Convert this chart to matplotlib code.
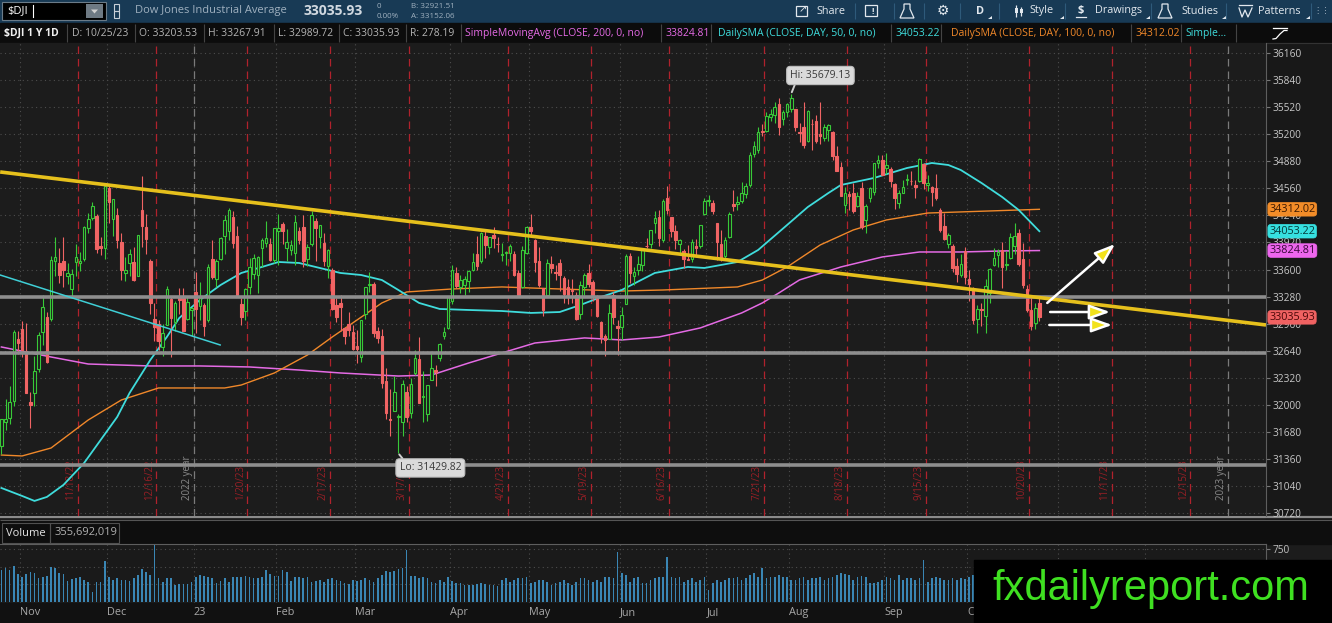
import numpy as np
import matplotlib
matplotlib.use("Agg")
import matplotlib.pyplot as plt
import matplotlib.transforms as mtransforms
from matplotlib.patches import Rectangle, Polygon

plt.rcParams['font.family'] = ['Open Sans', 'DejaVu Sans']

W, H = 1332, 623

# $DJI daily sessions 10/25/22 .. 10/25/23 (one value per session)
opens = [
    31512, 31800, 31850, 32050, 32780,
    32900, 32640, 32040, 32140, 32430, 32860, 33040, 33020, 33700, 33680, 33700, 33520, 33370, 33690, 33680, 33730, 34090, 34210, 34230, 33880, 33850,
    34560, 34200, 34250, 33930, 33560, 33680, 33690, 33520, 34300, 34100, 33700, 33020, 32960, 32680, 32940, 33250, 32980, 33280, 33260, 33020, 33120,
    33330, 33170, 33180, 33000, 33720, 33490, 33730, 34000, 34050, 34220, 34000, 33190, 33110, 33390, 33550, 33540, 33850, 33910, 33900, 33710,
    34060, 34140, 33850, 33830, 33800, 34050, 34100, 33720, 33900, 34170, 33980, 33910, 33640, 33600, 33180, 33200, 32910, 32960, 32860,
    32700, 32570, 33080, 33420, 33430, 32870, 32810, 32280, 31840, 31930, 31860, 31800, 32150, 31910, 32380, 32550, 32100, 31900, 32300, 32420, 32560, 32820, 32910,
    33230, 33560, 33400, 33420, 33460, 33600, 33780, 33700, 34000, 33870, 34010, 33900, 33770, 33800, 33800, 33780, 33560, 33400, 33800,
    34100, 33950, 33700, 33380, 33300, 33670, 33570, 33680, 33500, 33400, 33360, 33300, 33080, 33390, 33560, 33450, 33290, 32980, 32820, 32780, 33300, 32930,
    32920, 33190, 33760, 33530, 33590, 33660, 33880, 33900, 34150, 34220, 33950, 34450, 34220, 34050, 33900, 33820, 33720, 33730, 33880, 33880, 34260,
    34410, 34390, 34150, 33900, 33760, 33990, 34380, 34380, 34410, 34490, 34600, 34960, 35010, 35230, 35240, 35400, 35420, 35560, 35380, 35460,
    35500, 35500, 35220, 35280, 35120, 35320, 35350, 35200, 35150, 35250, 35220, 34940, 34810, 34360, 34490, 34510, 34350, 34560, 34180, 34450, 34520, 34860, 34900,
    34800, 34790, 34610, 34390, 34510, 34660, 34650, 34600, 34650, 34850, 34600, 34580, 34560, 34300, 34120, 33900, 33880, 33640, 33540, 33820,
    33490, 33380, 33020, 33130, 33050, 33320, 33650, 33770, 33830, 33650, 33740, 33880, 34030, 33720, 33370, 33120, 32970, 33203.53,
]
highs = [
    31840, 32070, 32220, 32890, 32880,
    32990, 32970, 32150, 32580, 32860, 33300, 33100, 33760, 33990, 33860, 33990, 33680, 33610, 33900, 33810, 34120, 34270, 34400, 34260, 33990, 34590,
    34600, 34430, 34330, 34030, 33750, 33840, 33870, 34005, 34710, 34260, 33720, 33200, 33010, 32960, 33410, 33290, 33230, 33380, 33380, 33290, 33160,
    33570, 33450, 33200, 33670, 33950, 33720, 33980, 34240, 34330, 34290, 34110, 33260, 33380, 33740, 33790, 33760, 33970, 34170, 33970, 34090,
    34260, 34160, 34080, 33950, 34240, 34100, 34250, 33900, 34290, 34210, 34130, 34030, 33840, 33620, 33260, 33300, 32920, 33100, 32950,
    32890, 33010, 33400, 33570, 33450, 32920, 32900, 32440, 32190, 32340, 31890, 32300, 32230, 32320, 32650, 32800, 32400, 32240, 32630, 32470, 32730, 32920, 33280,
    33650, 33630, 33540, 33520, 33600, 33800, 34000, 34040, 34070, 33990, 34100, 33980, 33910, 33820, 33900, 33820, 33600, 33880, 34110,
    34260, 33960, 33870, 33380, 33720, 33760, 33650, 33730, 33520, 33490, 33490, 33340, 33470, 33560, 33670, 33480, 33300, 32990, 32840, 33190, 33340, 33000,
    33160, 33780, 33800, 33630, 33760, 33860, 33970, 34070, 34290, 34300, 34430, 34590, 34220, 34130, 33960, 33840, 33890, 33960, 33960, 34130, 34450,
    34480, 34420, 34150, 34070, 33980, 34280, 34540, 34470, 34630, 34620, 34990, 35120, 35280, 35320, 35460, 35500, 35580, 35630, 35480, 35570,
    35679.13, 35500, 35330, 35580, 35480, 35380, 35420, 35580, 35320, 35320, 35240, 35060, 34870, 34580, 34530, 34620, 34520, 34640, 34380, 34580, 34860, 34950, 34950,
    34980, 34810, 34620, 34540, 34660, 34730, 34760, 34660, 34920, 34860, 34720, 34590, 34730, 34330, 34270, 34030, 33900, 33740, 33790, 33870,
    33590, 33390, 33180, 33200, 33490, 33620, 33860, 33840, 33920, 33820, 34030, 34150, 34080, 33910, 33420, 33280, 33210, 33267.91,
]
lows = [
    31420, 31700, 31780, 31990, 32600,
    32570, 32140, 31730, 31990, 32390, 32710, 32500, 32990, 33530, 33440, 33390, 33430, 33260, 33530, 33580, 33700, 34030, 34180, 33800, 33770, 33720,
    34150, 34000, 33850, 33480, 33470, 33520, 33460, 33520, 33870, 33780, 33070, 32760, 32650, 32580, 32940, 32570, 32880, 33080, 32870, 33010, 32810,
    32850, 33000, 32810, 32980, 33490, 33390, 33710, 33790, 33950, 33860, 33280, 32940, 33010, 33310, 33490, 33320, 33630, 33870, 33700, 33680,
    33660, 33900, 33700, 33770, 33650, 33900, 33630, 33640, 33880, 33700, 33860, 33640, 33500, 33120, 32980, 32880, 32720, 32820, 32650,
    32500, 32510, 33020, 33330, 32800, 32730, 32200, 31830, 31640, 31930, 31429.82, 31640, 31800, 31850, 32350, 32030, 31800, 31810, 32300, 32230, 32520, 32780, 32900,
    33190, 33380, 33320, 33300, 33340, 33580, 33600, 33680, 33740, 33780, 33850, 33810, 33700, 33650, 33700, 33520, 33280, 33380, 33790,
    33980, 33570, 33400, 33050, 33300, 33560, 33480, 33350, 33200, 33190, 33210, 33000, 33020, 33300, 33390, 33230, 33040, 32730, 32580, 32780, 32960, 32590,
    32770, 33190, 33440, 33420, 33540, 33580, 33850, 33850, 34030, 33880, 33930, 34260, 33990, 33840, 33770, 33620, 33710, 33690, 33760, 33850, 34250,
    34350, 34260, 33710, 33700, 33710, 33970, 34290, 34300, 34390, 34440, 34570, 34930, 34980, 35180, 35220, 35360, 35330, 35190, 35310, 35400,
    35460, 35240, 35110, 35040, 35110, 35010, 35100, 35080, 35120, 35120, 34890, 34760, 34470, 34270, 34300, 34270, 34340, 34080, 34030, 34400, 34480, 34800, 34720,
    34730, 34580, 34310, 34330, 34500, 34600, 34600, 34440, 34640, 34550, 34530, 34350, 34420, 34040, 33950, 33850, 33570, 33450, 33510, 33430,
    33230, 32960, 32850, 32930, 32850, 33200, 33640, 33630, 33380, 33600, 33730, 33790, 33640, 33380, 33100, 32890, 32900, 32989.72,
]
closes = [
    31837, 31839, 32033, 32862, 32733,
    32653, 32148, 32001, 32403, 32827, 33161, 32514, 33715, 33748, 33537, 33593, 33554, 33546, 33746, 33700, 34098, 34194, 34347, 33849, 33853, 34590,
    34395, 34430, 33947, 33596, 33598, 33781, 33476, 34005, 34109, 33966, 33202, 32920, 32758, 32850, 33376, 33027, 33204, 33242, 32876, 33221, 33147,
    33136, 33270, 32930, 33631, 33518, 33704, 33973, 34190, 34303, 33911, 33297, 33045, 33375, 33630, 33734, 33744, 33949, 33978, 33717, 34086,
    34093, 34054, 33926, 33891, 34157, 33949, 33700, 33869, 34246, 34089, 34128, 33697, 33827, 33130, 33045, 33154, 32817, 32889, 32657,
    32662, 33004, 33391, 33431, 32856, 32798, 32255, 31910, 31819, 32155, 31875, 32247, 31862, 32245, 32561, 32030, 32105, 32238, 32432, 32394, 32718, 32859, 33274,
    33601, 33402, 33483, 33485, 33587, 33685, 33647, 34030, 33886, 33987, 33977, 33897, 33787, 33809, 33875, 33531, 33302, 33826, 34098,
    34052, 33685, 33414, 33128, 33674, 33619, 33562, 33531, 33310, 33301, 33349, 33012, 33421, 33536, 33427, 33287, 33056, 32800, 32765, 33093, 33043, 32908,
    33062, 33763, 33563, 33573, 33665, 33834, 33877, 34066, 34212, 33979, 34408, 34299, 34054, 33952, 33947, 33727, 33715, 33927, 33853, 34122, 34408,
    34418, 34289, 33922, 33735, 33944, 34261, 34347, 34395, 34509, 34585, 34952, 35061, 35225, 35228, 35411, 35438, 35520, 35283, 35459, 35560,
    35631, 35283, 35216, 35066, 35473, 35314, 35123, 35176, 35281, 35308, 34946, 34766, 34475, 34501, 34464, 34289, 34473, 34099, 34347, 34560, 34853, 34890, 34722,
    34838, 34642, 34443, 34501, 34577, 34664, 34646, 34576, 34907, 34618, 34624, 34518, 34441, 34070, 33964, 34007, 33619, 33550, 33666, 33508,
    33433, 33002, 33130, 33120, 33408, 33605, 33739, 33805, 33631, 33670, 33985, 33998, 33665, 33414, 33127, 32936, 33141, 33035.93,
]
# volume, millions of shares
volumes = [
    450, 476, 453, 514, 392,
    359, 392, 430, 406, 344, 359, 373, 500, 476, 406, 392, 297, 321, 335, 359, 311, 288, 137, 288, 288, 580,
    359, 311, 335, 311, 311, 297, 335, 382, 462, 430, 382, 807, 335, 288, 335, 344, 241, 250, 250, 250, 288,
    359, 382, 373, 359, 335, 264, 297, 335, 288, 359, 359, 359, 368, 359, 335, 335, 359, 453, 392, 368,
    368, 453, 420, 297, 359, 359, 335, 359, 288, 297, 311, 288, 325, 344, 311, 297, 264, 250, 311,
    297, 311, 335, 311, 288, 335, 382, 439, 430, 439, 467, 486, 736, 368, 368, 344, 359, 335, 288, 264, 311, 288, 359,
    297, 274, 264, 241, 241, 241, 250, 264, 250, 241, 241, 231, 311, 335, 288, 311, 335, 344, 359,
    264, 288, 311, 311, 288, 241, 264, 288, 311, 264, 241, 288, 335, 335, 311, 288, 311, 288, 359, 359, 335, 713,
    406, 382, 288, 335, 359, 264, 264, 311, 335, 359, 359, 642, 359, 335, 359, 288, 311, 335, 288, 311, 359,
    170, 264, 311, 288, 311, 335, 335, 359, 311, 335, 382, 406, 359, 486, 335, 359, 359, 382, 359, 359,
    311, 311, 335, 359, 311, 335, 335, 359, 311, 335, 359, 382, 406, 392, 382, 311, 359, 368, 359, 264, 264, 288, 311,
    359, 335, 311, 382, 311, 335, 335, 311, 335, 595, 288, 335, 359, 335, 311, 311, 335, 311, 335, 325,
    350, 380, 390, 360, 340, 330, 320, 330, 330, 320, 330, 370, 360, 380, 420, 380, 360, 355.69,
]

# moving averages (session index -> value)
sma200_idx = [0, 12, 21, 36, 48, 60, 72, 82, 96, 104, 113, 121, 129, 141, 150, 159, 169, 179, 184, 188, 193, 203, 213, 222, 232, 242, 251]
sma200 = [32686, 32568, 32485, 32462, 32462, 32450, 32414, 32379, 32343, 32355, 32497, 32615, 32733, 32793, 32769, 32804, 32911,
          33088, 33206, 33324, 33478, 33631, 33749, 33808, 33808, 33820, 33824.81]
sma50_idx = [0, 5, 8, 11, 15, 20, 24, 28, 31, 36, 40, 43, 48, 53, 58, 63, 67, 72, 77, 82, 87, 92, 96, 101, 106,
             113, 121, 128, 135, 140, 145, 150, 158, 166, 170, 178, 183, 190, 195, 200, 203, 211, 219, 225, 229,
             232, 237, 242, 246, 251]
sma50 = [31021, 30927, 30868, 30915, 31057, 31316, 31588, 31860, 32143, 32532, 32804, 33028, 33241, 33418, 33560,
         33631, 33690, 33678, 33619, 33560, 33536, 33477, 33359, 33206, 33135, 33123, 33111, 33088, 33099, 33182,
         33276, 33359, 33560, 33631, 33619, 33690, 33832, 34127, 34339, 34505, 34599, 34682, 34800, 34859, 34835,
         34776, 34623, 34457, 34304, 34053.22]
sma100_idx = [0, 5, 12, 21, 29, 38, 46, 54, 58, 66, 74, 80, 86, 92, 98, 109, 121, 135, 150, 160, 178, 184, 190,
              198, 206, 214, 224, 251]
sma100 = [31410, 31399, 31493, 31824, 32060, 32202, 32202, 32202, 32237, 32379, 32591, 32804, 33005, 33206, 33336,
          33371, 33395, 33371, 33347, 33359, 33395, 33477, 33631, 33891, 34068, 34186, 34268, 34312.02]

month_names = ['Nov', 'Dec', '23', 'Feb', 'Mar', 'Apr', 'May', 'Jun', 'Jul', 'Aug', 'Sep', 'Oct', 'Nov', 'Dec']
month_start = [5, 26, 47, 67, 86, 109, 128, 150, 171, 191, 214, 234, 256, 277]
expiry_labels = ['11/18/22', '12/16/22', '1/20/23', '2/17/23', '3/17/23', '4/21/23', '5/19/23', '6/16/23',
                 '7/21/23', '8/18/23', '9/15/23', '10/20/23', '11/17/23', '12/15/23']
expiry_idx = [18, 37, 59, 79, 98, 122, 142, 161, 184, 204, 223, 248, 268, 287]
year_labels = ['2022 year', '2023 year']
year_idx = [46, 296]

# user drawings
trend_idx = [-0.3, 305.8]
trend_px = [34753, 32946]
short_trend_idx = [-0.3, 52.9]
short_trend_px = [33536, 32710]
support_levels = [33280, 32615, 31290]
hi_idx, lo_idx = 191, 96

BG = '#1c1c1c'
UP = '#38c938'
DN = '#f06464'
MAG = '#e46ae4'
CYN = '#3fdcdc'
ORG = '#f0882a'

fig = plt.figure(figsize=(W / 100, H / 100), dpi=100)
fig.patch.set_facecolor(BG)


def px_axes(x0, y0, x1, y1):
    return fig.add_axes([x0 / W, 1 - y1 / H, (x1 - x0) / W, (y1 - y0) / H])


# ---------- frame / toolbar (pixel coords) ----------
ui = fig.add_axes([0, 0, 1, 1])
ui.set_xlim(0, W)
ui.set_ylim(H, 0)
ui.axis('off')
ui.add_patch(Rectangle((0, 0), W, 22.5, color='#183a55'))
ui.add_patch(Rectangle((0, 23), W, 20, color='#0c0c0c'))
ui.add_patch(Rectangle((1266, 43), 66, 477, color='#181818'))
ui.add_patch(Rectangle((0, 520), W, 24, color='#0e0e0e'))
ui.add_patch(Rectangle((0, 603), W, 20, color='#111111'))
ui.hlines([516.5], 0, W, color='#8a8a8a', lw=1.6)
ui.hlines([519.5], 0, W, color='#555555', lw=0.8)

# symbol box
ui.add_patch(Rectangle((2, 2), 104, 18, fc='#000000', ec='#6b7b88', lw=0.8))
ui.text(7, 11, '$DJI', color='white', fontsize=8, va='center')
ui.plot([33, 33], [5, 17], color='white', lw=0.8)
ui.add_patch(Rectangle((86, 4), 17, 14, fc='#6e7a84'))
ui.add_patch(Polygon([(91, 9.5), (98, 9.5), (94.5, 13.5)], fc='#d0d0d0'))
ui.add_patch(Rectangle((114, 4), 5, 7, fc='none', ec='#c8d0d8', lw=0.8))
ui.add_patch(Rectangle((114, 11), 5, 7, fc='none', ec='#c8d0d8', lw=0.8))
ui.text(135, 11, 'Dow Jones Industrial Average', color='#9fb0bf', fontsize=8, va='center')
ui.text(303, 11, '33035.93', color='#d0d8e0', fontsize=10, fontweight='bold', va='center')
ui.text(377, 6, '0', color='#9fb0bf', fontsize=5.8, va='center')
ui.text(377, 16, '0.00%', color='#9fb0bf', fontsize=5.8, va='center')
ui.text(411, 6, 'B: 32921.51', color='#9fb0bf', fontsize=5.8, va='center')
ui.text(411, 16, 'A: 33152.06', color='#9fb0bf', fontsize=5.8, va='center')

ui.vlines([855, 894, 924, 960, 999, 1065, 1151, 1226, 1311], 3, 19, color='#2e5a7a', lw=0.8)
tb = '#e2e8ee'
ui.add_patch(Rectangle((796, 6), 11, 10, fc='none', ec=tb, lw=0.9))
ui.text(803, 9, '\u2197', color=tb, fontsize=7, ha='center', va='center', family='DejaVu Sans')
ui.text(816, 11, 'Share', color=tb, fontsize=7.8, va='center')
ui.add_patch(Rectangle((865, 5), 12, 11, fc='none', ec=tb, lw=0.9))
ui.text(873, 11, '!', color=tb, fontsize=6, ha='center', va='center', fontweight='bold')
for fx in (907, 1165):
    ui.add_patch(Polygon([(fx - 3, 4), (fx + 3, 4), (fx + 3, 9), (fx + 7, 18), (fx - 7, 18), (fx - 3, 9)],
                         fc='none', ec=tb, lw=0.9))
ui.text(943, 11, '\u2699', color=tb, fontsize=10, ha='center', va='center', family='DejaVu Sans')
ui.text(980, 11, 'D', color=tb, fontsize=7.8, va='center', ha='center', fontweight='bold')
ui.vlines([1016, 1021], [5, 7], [17, 16], color=tb, lw=0.9)
ui.add_patch(Rectangle((1014.5, 8), 3, 5, fc=tb))
ui.add_patch(Rectangle((1019.5, 9), 3, 4, fc=tb))
ui.text(1029, 11, 'Style', color=tb, fontsize=7.8, va='center')
ui.text(1081, 10, '$', color=tb, fontsize=8, va='center', ha='center', fontweight='bold')
ui.plot([1076, 1086], [17, 17], color=tb, lw=0.9)
ui.text(1095, 11, 'Drawings', color=tb, fontsize=7.8, va='center')
ui.text(1181, 11, 'Studies', color=tb, fontsize=7.8, va='center')
ui.plot([1239, 1252], [4.5, 4.5], color=tb, lw=0.9)
ui.plot([1239, 1242, 1245, 1248, 1252], [8, 17, 10, 17, 8], color=tb, lw=0.9)
ui.text(1258, 11, 'Patterns', color=tb, fontsize=7.8, va='center')
for tx in (988, 1060, 1146, 1222, 1306):
    ui.add_patch(Polygon([(tx, 19), (tx + 3.5, 19), (tx + 3.5, 15.5)], fc=tb))
ui.text(1322, 11, '\u22ee\u22ee', color='#9fb0bf', fontsize=6, va='center', ha='center', family='DejaVu Sans')

# study legend row
gray_txt = '#b4b4b4'
legend_cells = [
    (4, '$DJI 1 Y 1D', '#f0f0f0', 'bold'),
    (72, 'D: 10/25/23', gray_txt, 'normal'),
    (139, 'O: 33203.53', gray_txt, 'normal'),
    (208, 'H: 33267.91', gray_txt, 'normal'),
    (278, 'L: 32989.72', gray_txt, 'normal'),
    (343, 'C: 33035.93', gray_txt, 'normal'),
    (410, 'R: 278.19', gray_txt, 'normal'),
    (465, 'SimpleMovingAvg (CLOSE, 200, 0, no)', MAG, 'normal'),
    (666, '33824.81', MAG, 'normal'),
    (718, 'DailySMA (CLOSE, DAY, 50, 0, no)', CYN, 'normal'),
    (896, '34053.22', CYN, 'normal'),
    (951, 'DailySMA (CLOSE, DAY, 100, 0, no)', ORG, 'normal'),
    (1136, '34312.02', ORG, 'normal'),
    (1185, 'Simple...', CYN, 'normal'),
]
for lx, s, col, fw in legend_cells:
    ui.text(lx, 33.5, s, color=col, fontsize=7.5, fontweight=fw, va='center')
ui.vlines([67, 135, 204, 274, 339, 406, 461, 661, 711, 891, 941, 1131, 1181, 1236], 24, 42,
          color='#444444', lw=0.8)
ui.hlines([42.5], 0, W, color='#333333', lw=0.8)
ui.plot([1273, 1287], [27.5, 27.5], color='white', lw=0.9)
ui.plot([1273, 1276, 1280, 1284, 1287], [39, 38.5, 34, 30.5, 30.5], color='white', lw=0.9)

# volume header
ui.add_patch(Rectangle((2, 523), 48, 20, fc='none', ec='#505050', lw=0.8))
ui.add_patch(Rectangle((50, 523), 69, 20, fc='none', ec='#505050', lw=0.8))
ui.text(6, 533, 'Volume', color='#e4e4e4', fontsize=8, va='center')
ui.text(55, 533, '355,692,019', color='#b0b0b0', fontsize=8, va='center')

# ---------- price panel ----------
ax = px_axes(0, 43, 1266, 516)
ax.set_facecolor(BG)
ax.set_xlim(-0.339, 305.8)
ax.set_ylim(30690, 36276)

idx = np.arange(len(closes))
o = np.array(opens)
h = np.array(highs)
l = np.array(lows)
c = np.array(closes)
up = c >= o
top = np.maximum(o, c)
bot = np.minimum(o, c)

for mask, col, face in ((up, UP, BG), (~up, DN, DN)):
    ax.vlines(idx[mask], top[mask], h[mask], color=col, lw=0.8, zorder=4)
    ax.vlines(idx[mask], l[mask], bot[mask], color=col, lw=0.8, zorder=4)
    ax.bar(idx[mask], np.maximum(top[mask] - bot[mask], 4), bottom=bot[mask], width=0.62,
           facecolor=face, edgecolor=col, linewidth=0.8, zorder=4)

ax.plot(sma200_idx, sma200, color=MAG, lw=1.1, zorder=3)
ax.plot(sma100_idx, sma100, color=ORG, lw=1.0, zorder=3)
ax.plot(sma50_idx, sma50, color=CYN, lw=1.3, zorder=3)

for lvl in support_levels:
    ax.axhline(lvl, color='#8e8e8e', lw=2.6, zorder=5)
ax.plot(trend_idx, trend_px, color='#e6c01c', lw=2.6, zorder=6, solid_capstyle='butt')
ax.plot(short_trend_idx, short_trend_px, color='#3fcfd6', lw=1.1, zorder=6)

blend = mtransforms.blended_transform_factory(ax.transData, ax.transAxes)
for lab, e in zip(expiry_labels, expiry_idx):
    ax.axvline(e + 0.5, color='#b0222c', lw=0.9, ls=(0, (6, 4)), zorder=2)
    ax.text(e + 0.5 - 1.7, 0.034, lab, transform=blend, rotation=90, ha='center', va='bottom',
            color='#9a1f26', fontsize=7, zorder=2)
for lab, yi in zip(year_labels, year_idx):
    ax.axvline(yi + 0.5, color='#7a7a7a', lw=0.9, ls=(0, (6, 4)), zorder=2)
    ax.text(yi + 0.5 - 1.5, 0.034, lab, transform=blend, rotation=90, ha='center', va='bottom',
            color='#8a8a8a', fontsize=7, zorder=2)

ax.set_xticks([m - 0.5 for m in month_start])
ax.set_yticks(np.arange(30720, 36161, 320))
ax.grid(True, color='#4d4d4d', ls=(0, (1, 3)), lw=0.8)
ax.set_axisbelow(True)
ax.tick_params(axis='x', length=0, labelbottom=False)
ax.tick_params(axis='y', left=False, right=True, labelleft=False, labelright=True,
               length=3, pad=2, color='#777777', labelcolor='#c8c8c8', labelsize=7.3)
for sp in ('top', 'left', 'bottom'):
    ax.spines[sp].set_visible(False)
ax.spines['right'].set_color('#5e5e5e')

# callouts
ax.annotate(f'Hi: {highs[hi_idx]:.2f}', xy=(hi_idx, highs[hi_idx]), xytext=(21, 13), textcoords='offset points',
            ha='center', va='center', fontsize=7.5, color='#3a3a3a', zorder=8,
            bbox=dict(boxstyle='round,pad=0.35', fc='#dadada', ec='#bdbdbd', lw=0.8),
            arrowprops=dict(arrowstyle='-', color='#cfcfcf', lw=1.4, relpos=(0.1, 0.0), shrinkA=0, shrinkB=1))
ax.annotate(f'Lo: {lows[lo_idx]:.2f}', xy=(lo_idx, lows[lo_idx]), xytext=(23, -10.5), textcoords='offset points',
            ha='center', va='center', fontsize=7.5, color='#3a3a3a', zorder=8,
            bbox=dict(boxstyle='round,pad=0.35', fc='#dadada', ec='#bdbdbd', lw=0.8),
            arrowprops=dict(arrowstyle='-', color='#cfcfcf', lw=1.4, relpos=(0.1, 1.0), shrinkA=0, shrinkB=1))

# arrows drawn on the chart
arrow_kw = dict(arrowstyle='-|>,head_length=0.9,head_width=0.32', lw=1.8, fc='#f2e21c', ec='white',
                shrinkA=0, shrinkB=0, mutation_scale=14)
ax.annotate('', xy=(269.3, 33902), xytext=(252.9, 33206), arrowprops=arrow_kw, zorder=9)
ax.annotate('', xy=(268.1, 33099), xytext=(253.6, 33099), arrowprops=arrow_kw, zorder=9)
ax.annotate('', xy=(268.6, 32946), xytext=(253.4, 32946), arrowprops=arrow_kw, zorder=9)

# last-value tags on the price scale
yblend = mtransforms.blended_transform_factory(ax.transAxes, ax.transData)
tags = [(sma100[-1], '#f28c28', '#3a1800'), (sma50[-1], '#36e0e0', '#053a3a'),
        (sma200[-1], '#ee66ee', '#3a073a'), (closes[-1], '#f06262', '#4a0808')]
for val, fc, tc in tags:
    ax.text(1.0025, val, f'{val:.2f}', transform=yblend, ha='left', va='center', fontsize=7.8, color=tc,
            clip_on=False, zorder=10,
            bbox=dict(boxstyle='round,pad=0.12,rounding_size=0.3', fc=fc, ec=fc, lw=0.5))

# ---------- volume panel ----------
vax = px_axes(0, 544, 1266, 603)
vax.set_facecolor('#1a1a1a')
vax.set_xlim(-0.339, 305.8)
vax.set_ylim(-14, 821)
vax.bar(idx, volumes, width=0.4, color='#3a86b4', zorder=3)
vax.set_xticks([m - 0.5 for m in month_start])
vax.set_xticklabels(month_names)
for t in vax.get_xticklabels():
    t.set_ha('left')
vax.set_yticks([250, 500, 750])
vax.set_yticklabels(['', '', '750'])
vax.grid(True, color='#4d4d4d', ls=(0, (1, 3)), lw=0.8)
vax.set_axisbelow(True)
vax.tick_params(axis='x', length=0, pad=3, labelcolor='#a8a8a8', labelsize=7.8)
vax.tick_params(axis='y', left=False, right=True, labelleft=False, labelright=True,
                length=3, pad=2, color='#777777', labelcolor='#c0c0c0', labelsize=7.3)
for sp in ('left', 'bottom'):
    vax.spines[sp].set_visible(False)
vax.spines['top'].set_color('#5e5e5e')
vax.spines['right'].set_color('#5e5e5e')

# ---------- watermark ----------
wm = fig.add_axes([0, 0, 1, 1])
wm.set_xlim(0, W)
wm.set_ylim(H, 0)
wm.axis('off')
wm.set_zorder(20)
wm.add_patch(Rectangle((974, 560), 358, 63, color='black'))
wm.text(992, 600, 'fxdailyreport.com', color='#3fe021', fontsize=30, family='Liberation Sans',
        va='baseline', ha='left')

fig.savefig('out.png', dpi=100, facecolor=fig.get_facecolor())
